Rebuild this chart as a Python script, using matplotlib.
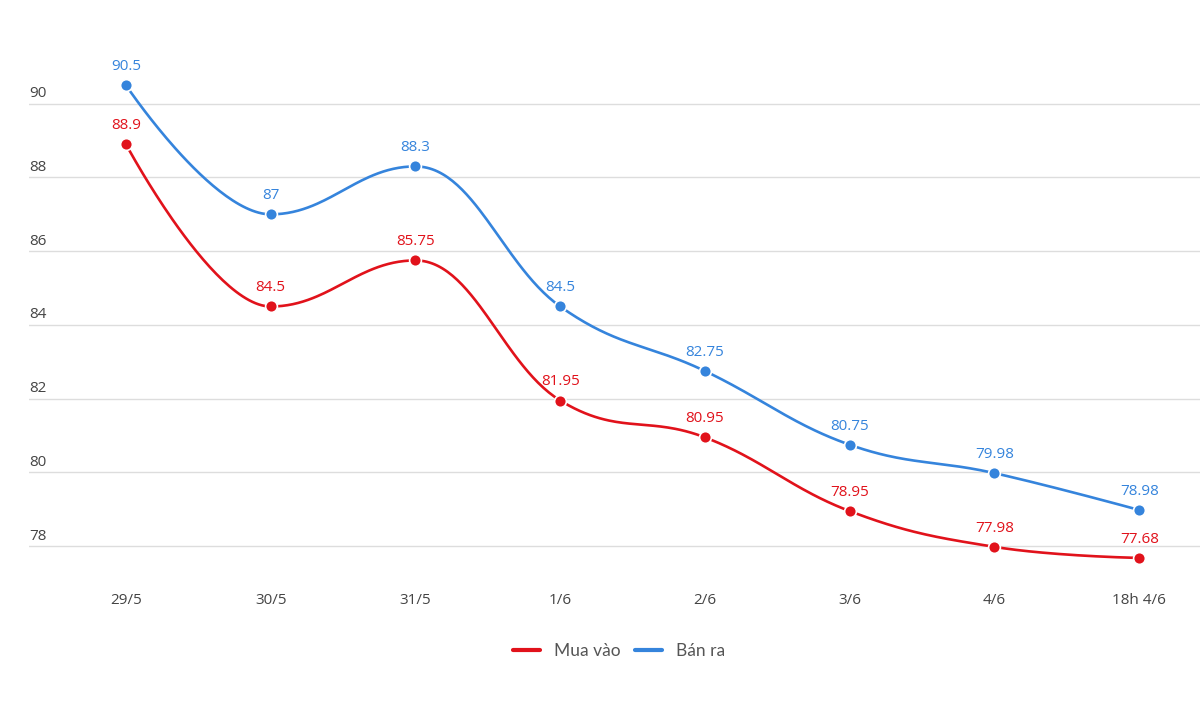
import matplotlib
matplotlib.use("Agg")
import matplotlib.pyplot as plt
import matplotlib.transforms as mtransforms
import numpy as np

# data
dates = ["29/5", "30/5", "31/5", "1/6", "2/6", "3/6", "4/6", "18h 4/6"]
mua_vao = [88.9, 84.5, 85.75, 81.95, 80.95, 78.95, 77.98, 77.68]
ban_ra = [90.5, 87, 88.3, 84.5, 82.75, 80.75, 79.98, 78.98]
yticks = [78, 80, 82, 84, 86, 88, 90]

RED = "#e1121b"
BLUE = "#3584dc"
GRAY = "#444444"

# pixel scales used to keep the spline shape like the original
SX, SY = 144.75, 36.86


def spline(ys):
    """highcharts-style spline, returns dense x, y in data units"""
    px = np.arange(len(ys)) * SX
    py = -np.array(ys) * SY
    n = len(ys)
    left = [None] * n
    right = [None] * n
    sm, den = 1.5, 2.5
    for i in range(n):
        if i == 0 or i == n - 1:
            left[i] = (px[i], py[i])
            right[i] = (px[i], py[i])
            continue
        lx = (sm * px[i] + px[i - 1]) / den
        ly = (sm * py[i] + py[i - 1]) / den
        rx = (sm * px[i] + px[i + 1]) / den
        ry = (sm * py[i] + py[i + 1]) / den
        corr = (ry - ly) * (rx - px[i]) / (rx - lx) + py[i] - ry
        ly += corr
        ry += corr
        # no overshoot
        if ly > py[i - 1] and ly > py[i]:
            ly = max(py[i - 1], py[i]); ry = 2 * py[i] - ly
        elif ly < py[i - 1] and ly < py[i]:
            ly = min(py[i - 1], py[i]); ry = 2 * py[i] - ly
        if ry > py[i + 1] and ry > py[i]:
            ry = max(py[i + 1], py[i]); ly = 2 * py[i] - ry
        elif ry < py[i + 1] and ry < py[i]:
            ry = min(py[i + 1], py[i]); ly = 2 * py[i] - ry
        left[i] = (lx, ly)
        right[i] = (rx, ry)
    xs, yv = [], []
    t = np.linspace(0, 1, 60)
    for i in range(n - 1):
        p0 = np.array([px[i], py[i]])
        p1 = np.array(right[i])
        p2 = np.array(left[i + 1])
        p3 = np.array([px[i + 1], py[i + 1]])
        b = ((1 - t) ** 3)[:, None] * p0 + (3 * (1 - t) ** 2 * t)[:, None] * p1 \
            + (3 * (1 - t) * t ** 2)[:, None] * p2 + (t ** 3)[:, None] * p3
        xs.extend(b[:, 0] / SX)
        yv.extend(-b[:, 1] / SY)
    return np.array(xs), np.array(yv)


fig = plt.figure(figsize=(12, 7.1), dpi=100)
ax = fig.add_axes([29 / 1200, 1 - 583 / 710, 1 - 29 / 1200, (583 - 30) / 710])
ax.set_xlim(-0.67, 7.42)
ax.set_ylim(77, 92)

for y in yticks:
    ax.axhline(y, color="#dddddd", lw=1, zorder=0)
trans = mtransforms.blended_transform_factory(ax.transAxes, ax.transData)
for y in yticks:
    ax.text(0, y + 0.07, str(y), transform=trans, ha="left", va="bottom",
            fontsize=11, color=GRAY, family="Open Sans")

x = np.arange(len(dates))
for vals, col, name in [(mua_vao, RED, "Mua vào"), (ban_ra, BLUE, "Bán ra")]:
    sx, sy = spline(vals)
    ax.plot(sx, sy, color=col, lw=1.9, zorder=3, label=name, solid_capstyle="round")
    ax.plot(x, vals, "o", color=col, ms=8.5, mec="white", mew=1.2, zorder=4)
    for xi, v in zip(x, vals):
        ax.annotate(f"{v:g}", (xi, v), xytext=(0, 8), textcoords="offset points",
                    ha="center", va="bottom", fontsize=11, color=col,
                    family="Open Sans")

xtrans = mtransforms.blended_transform_factory(ax.transData, fig.transFigure)
for xi, d in zip(x, dates):
    ax.text(xi, 1 - 601 / 710, d, transform=xtrans,
            ha="center", va="center", fontsize=11, color=GRAY, family="Open Sans")

for s in ax.spines.values():
    s.set_visible(False)
ax.set_xticks([])
ax.set_yticks([])

fig.legend(loc="center", bbox_to_anchor=(619 / 1200, 1 - 651 / 710), ncol=2, frameon=False,
           handlelength=1.6, handletextpad=0.8, columnspacing=0.8,
           prop={"family": "Lato", "size": 12.5}, labelcolor="#555555")
leg = fig.legends[0]
for h in leg.legend_handles:
    h.set_linewidth(3)

fig.savefig("out.png", dpi=100, facecolor="white")
